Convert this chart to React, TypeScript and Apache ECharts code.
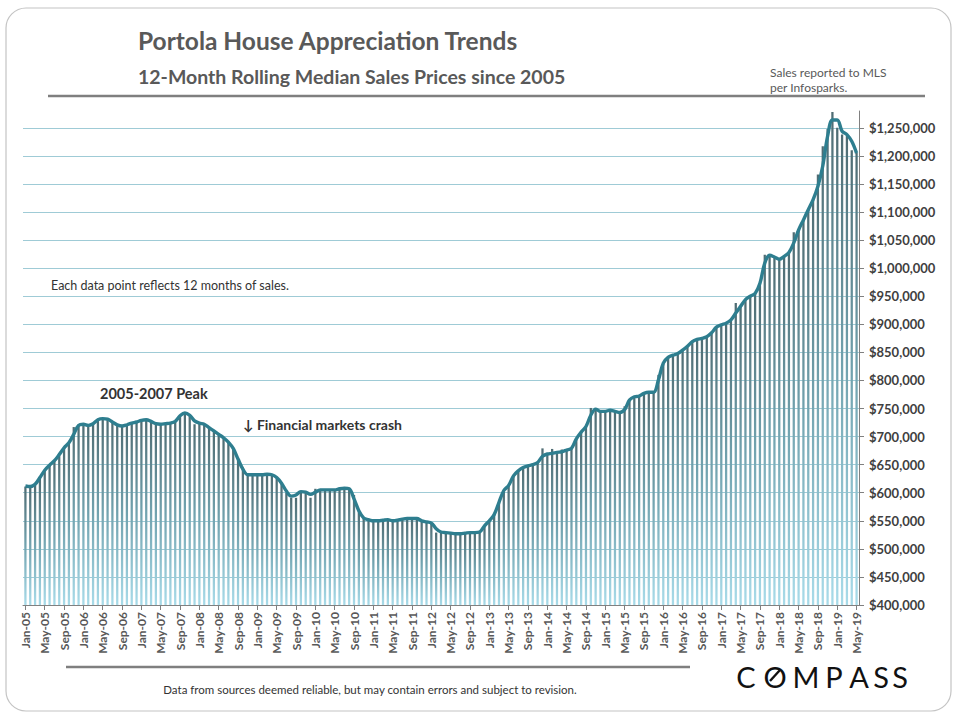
import React, { useEffect, useRef } from "react";
import * as echarts from "echarts";

// Month labels Jan-05 .. May-19 (173 months)
const MONTH_NAMES = ["Jan", "Feb", "Mar", "Apr", "May", "Jun", "Jul", "Aug", "Sep", "Oct", "Nov", "Dec"];
const MONTH_COUNT = 173;
const categories: string[] = [];
for (let i = 0; i < MONTH_COUNT; i++) {
  const yr = 5 + Math.floor(i / 12);
  categories.push(`${MONTH_NAMES[i % 12]}-${String(yr).padStart(2, "0")}`);
}

// 12-month rolling median sale price, in $ thousands (bars)
const medianPriceK = [
  611, 610, 615, 627, 640, 649, 657, 668, 680, 689, 717, 720, 722, 720, 723, 730, 732, 731, 726, 721,
  719, 721, 724, 726, 729, 730, 727, 723, 721, 723, 724, 727, 737, 742, 738, 722, 724, 722, 716, 710,
  704, 698, 690, 679, 660, 645, 632, 632, 632, 632, 633, 632, 627, 617, 600, 591, 591, 600, 601, 591,
  607, 605, 605, 605, 605, 607, 608, 607, 596, 568, 554, 552, 550, 550, 551, 552, 550, 551, 553, 554,
  554, 554, 550, 548, 546, 529, 530, 529, 528, 527, 527, 528, 529, 529, 530, 541, 550, 561, 583, 604,
  613, 630, 639, 645, 648, 650, 654, 679, 669, 678, 672, 677, 676, 679, 696, 708, 718, 751, 749, 745,
  745, 747, 745, 743, 754, 765, 771, 772, 777, 779, 779, 810, 831, 841, 845, 848, 854, 861, 869, 873,
  875, 878, 885, 895, 899, 902, 908, 938, 932, 944, 950, 955, 973, 1024, 1023, 1020, 1016, 1021, 1028, 1064,
  1068, 1086, 1104, 1122, 1167, 1217, 1248, 1278, 1250, 1238, 1236, 1210, 1205,
];

// Trend line drawn over the bars, in $ thousands
const trendK = [
  612, 611, 615, 627, 640, 649, 657, 668, 680, 689, 704, 720, 722, 720, 723, 730, 732, 731, 726, 721,
  719, 721, 724, 726, 729, 730, 727, 723, 722, 723, 724, 727, 737, 742, 738, 728, 724, 722, 716, 710,
  704, 698, 690, 679, 660, 642, 632, 632, 632, 632, 633, 632, 627, 617, 603, 594, 596, 602, 601, 597,
  601, 605, 605, 605, 605, 607, 608, 607, 589, 568, 555, 552, 550, 550, 551, 552, 550, 551, 553, 554,
  554, 554, 550, 548, 546, 536, 530, 529, 528, 527, 527, 528, 529, 529, 530, 541, 550, 561, 583, 604,
  613, 630, 639, 645, 648, 650, 654, 665, 669, 670, 672, 673, 676, 679, 696, 708, 718, 738, 749, 745,
  745, 747, 745, 743, 748, 765, 771, 772, 777, 779, 779, 801, 831, 841, 845, 848, 854, 861, 869, 873,
  875, 878, 885, 895, 899, 902, 908, 920, 932, 944, 950, 955, 973, 1009, 1023, 1020, 1016, 1021, 1028, 1045,
  1068, 1086, 1104, 1122, 1146, 1182, 1235, 1264, 1264, 1244, 1238, 1226, 1205,
];

const Y_MIN = 400000;
const Y_MAX = 1280000;
const Y_STEP = 50000;

const TITLE = "Portola House Appreciation Trends";
const SUBTITLE = "12-Month Rolling Median Sales Prices since 2005";
const SOURCE_NOTE = ["Sales reported to MLS", "per Infosparks."];
const NOTE = "Each data point reflects 12 months of sales.";
const PEAK_NOTE = "2005-2007 Peak";
const CRASH_NOTE = "\u2193 Financial markets crash";
const FOOTER = "Data from sources deemed reliable, but may contain errors and subject to revision.";
const LOGO_LETTERS = ["C", "O", "M", "P", "A", "S", "S"];
const LOGO_X = [746, 775, 806, 834, 859, 881, 900];

export default function App() {
  const ref = useRef<HTMLDivElement>(null);

  useEffect(() => {
    if (!ref.current) return;
    const chart = echarts.init(ref.current, undefined, { renderer: "svg" });

    // one visible line per labelled tick (400k..1250k), the max tick (1.28M) stays hidden
    const labelledTicks = Math.floor((Y_MAX - Y_MIN) / Y_STEP) + 1;
    const gridColors: string[] = [];
    for (let i = 0; i < labelledTicks; i++) gridColors.push("#9fcbd6");
    gridColors.push("rgba(0,0,0,0)");

    const font = "Lato, 'Open Sans', sans-serif";

    const logo: any[] = LOGO_LETTERS.map((ch, i) => ({
      type: "text",
      x: LOGO_X[i],
      y: 676,
      style: {
        text: ch,
        fill: "#111",
        font: `400 29px ${font}`,
        textAlign: "center",
        textVerticalAlign: "middle",
      },
    }));
    logo.push({
      type: "line",
      shape: { x1: 770, y1: 681, x2: 780, y2: 670 },
      style: { stroke: "#111", lineWidth: 2.4 },
    });

    chart.setOption({
      animation: false,
      backgroundColor: "#ffffff",
      grid: { left: 23, right: 101, top: 111, bottom: 115, containLabel: false },
      xAxis: {
        type: "category",
        data: categories,
        boundaryGap: true,
        axisLine: { show: true, lineStyle: { color: "#808080", width: 1 } },
        axisTick: { show: true, alignWithLabel: true, interval: 3, length: 5, lineStyle: { color: "#808080" } },
        axisLabel: {
          interval: 3,
          rotate: 90,
          margin: 7,
          color: "#595959",
          fontSize: 12,
          fontWeight: "bold",
          fontFamily: font,
        },
        splitLine: { show: false },
      },
      yAxis: {
        type: "value",
        position: "right",
        min: Y_MIN,
        max: Y_MAX,
        interval: Y_STEP,
        axisLine: { show: true, lineStyle: { color: "#808080", width: 1 } },
        axisTick: { show: true, length: 5, lineStyle: { color: "#808080" } },
        axisLabel: {
          showMaxLabel: false,
          margin: 10,
          color: "#404040",
          fontSize: 13,
          fontWeight: "bold",
          fontFamily: font,
          formatter: (v: number) => (v % Y_STEP === 0 ? "$" + v.toLocaleString("en-US") : ""),
        },
        splitLine: { show: true, lineStyle: { color: gridColors, width: 1 } },
      },
      series: [
        {
          type: "bar",
          data: medianPriceK.map((v) => v * 1000),
          barWidth: "47%",
          itemStyle: {
            color: new echarts.graphic.LinearGradient(0, 0, 0, 1, [
              { offset: 0, color: "#4f6c73" },
              { offset: 0.5, color: "#72a3af" },
              { offset: 1, color: "#a8dbe9" },
            ]),
          },
          silent: true,
          z: 2,
        },
        {
          type: "line",
          data: trendK.map((v) => v * 1000),
          smooth: 0.35,
          showSymbol: false,
          symbol: "none",
          lineStyle: { color: "#2e7e8f", width: 3.4 },
          silent: true,
          z: 3,
        },
      ],
      graphic: [
        {
          type: "rect",
          shape: { x: 6, y: 8, width: 945, height: 703, r: 20 },
          style: { fill: "none", stroke: "#c4c4c4", lineWidth: 1.2 },
          silent: true,
        },
        {
          type: "line",
          shape: { x1: 48, y1: 96, x2: 925, y2: 96 },
          style: { stroke: "#7f7f7f", lineWidth: 2.5 },
        },
        {
          type: "line",
          shape: { x1: 66, y1: 667, x2: 690, y2: 667 },
          style: { stroke: "#7f7f7f", lineWidth: 2.5 },
        },
        {
          type: "text",
          x: 138,
          y: 40,
          style: { text: TITLE, fill: "#595959", font: `bold 24.5px ${font}`, textVerticalAlign: "middle" },
        },
        {
          type: "text",
          x: 138,
          y: 76,
          style: { text: SUBTITLE, fill: "#595959", font: `bold 19.5px ${font}`, textVerticalAlign: "middle" },
        },
        {
          type: "text",
          x: 770,
          y: 72,
          style: { text: SOURCE_NOTE[0], fill: "#595959", font: `12px ${font}`, textVerticalAlign: "middle" },
        },
        {
          type: "text",
          x: 770,
          y: 87,
          style: { text: SOURCE_NOTE[1], fill: "#595959", font: `12px ${font}`, textVerticalAlign: "middle" },
        },
        {
          type: "text",
          x: 51,
          y: 285,
          style: { text: NOTE, fill: "#333333", font: `12.5px ${font}`, textVerticalAlign: "middle" },
        },
        {
          type: "text",
          x: 100,
          y: 393,
          style: { text: PEAK_NOTE, fill: "#333333", font: `bold 14.5px ${font}`, textVerticalAlign: "middle" },
        },
        {
          type: "text",
          x: 243,
          y: 424,
          style: { text: CRASH_NOTE, fill: "#333333", font: `bold 14px ${font}`, textVerticalAlign: "middle" },
        },
        {
          type: "text",
          x: 370,
          y: 689,
          style: { text: FOOTER, fill: "#333333", font: `11.5px ${font}`, textAlign: "center", textVerticalAlign: "middle" },
        },
        ...logo,
      ],
    });

    return () => chart.dispose();
  }, []);

  return (
    <div
      ref={ref}
      style={{ position: "fixed", left: 0, top: 0, width: 960, height: 720, background: "#fff" }}
    />
  );
}
